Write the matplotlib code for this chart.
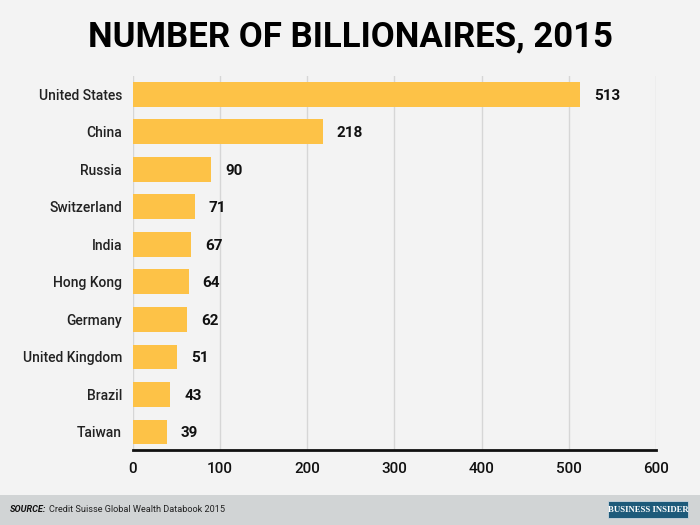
import matplotlib
matplotlib.use("Agg")
import matplotlib.pyplot as plt
from matplotlib.patches import Rectangle

# data
countries = ["United States", "China", "Russia", "Switzerland", "India",
             "Hong Kong", "Germany", "United Kingdom", "Brazil", "Taiwan"]
billionaires = [513, 218, 90, 71, 67, 64, 62, 51, 43, 39]
x_ticks = [0, 100, 200, 300, 400, 500, 600]

bg = "#f3f3f3"
bar_color = "#fdc247"

plt.rcParams["font.family"] = ["Roboto", "DejaVu Sans"]

fig = plt.figure(figsize=(7, 5.25), dpi=100, facecolor=bg)
ax = fig.add_axes([0.19, 0.1429, 0.747, 0.712])
ax.set_facecolor(bg)

pos = list(range(len(countries)))
ax.barh(pos, billionaires, height=0.66, color=bar_color, zorder=3)

for p, v in zip(pos, billionaires):
    ax.annotate(str(v), (v, p), xytext=(10, 0), textcoords="offset points",
                va="center_baseline", ha="left", fontsize=11, fontweight="bold",
                color="#111111")

ax.set_yticks(pos)
ax.set_yticklabels(countries, fontsize=10, color="#222222", fontweight="medium")
ax.set_ylim(9.48, -0.48)
ax.set_xlim(0, 600)
ax.set_xticks(x_ticks)
ax.set_xticklabels([str(t) for t in x_ticks], fontsize=11, color="#111111",
                   fontweight="medium")
ax.tick_params(axis="both", length=0)
ax.tick_params(axis="y", pad=8)
ax.tick_params(axis="x", pad=9)

ax.grid(axis="x", color="#d6d6d6", lw=1, zorder=0)
for s in ["top", "right", "left"]:
    ax.spines[s].set_visible(False)
ax.spines["bottom"].set_color("#111111")
ax.spines["bottom"].set_linewidth(2)
ax.spines["bottom"].set_zorder(4)

fig.text(0.5, 0.93, "NUMBER OF BILLIONAIRES, 2015", ha="center", va="center",
         fontsize=25, fontweight="bold", color="#000000")

# footer band
fig.patches.append(Rectangle((0, 0), 1, 30 / 525, transform=fig.transFigure,
                             facecolor="#d1d4d5", edgecolor="none", zorder=-1))
src = fig.text(0.014, 15 / 525, "SOURCE:", ha="left", va="center", fontsize=6.6,
               fontweight="bold", style="italic", color="#111111")
ax.annotate("Credit Suisse Global Wealth Databook 2015", xy=(1, 0.5), xycoords=src,
            xytext=(2, 0), textcoords="offset points", ha="left", va="center",
            fontsize=6.6, color="#222222", annotation_clip=False)
fig.patches.append(Rectangle((608 / 700, 7 / 525), 80 / 700, 17 / 525,
                             transform=fig.transFigure, facecolor="#1d5a7a",
                             edgecolor="#c9d6de", lw=0.6, zorder=1))
fig.text(648 / 700, 15.5 / 525, "BUSINESS INSIDER", ha="center", va="center",
         fontsize=6.3, fontweight="bold", family=["Liberation Serif", "DejaVu Serif"],
         color="white", zorder=2)

fig.savefig("out.png", dpi=100, facecolor=bg)
